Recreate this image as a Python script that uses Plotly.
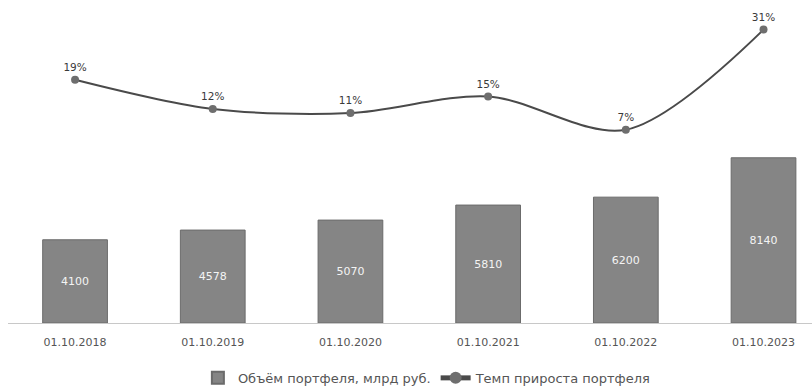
import plotly.graph_objects as go

dates = ["01.10.2018", "01.10.2019", "01.10.2020", "01.10.2021", "01.10.2022", "01.10.2023"]
portfolio = [4100, 4578, 5070, 5810, 6200, 8140]
growth = [19, 12, 11, 15, 7, 31]

bar_name = "Объём портфеля, млрд руб."
line_name = "Темп прироста портфеля"

font_family = "'DejaVu Sans', Verdana, sans-serif"

fig = go.Figure()

fig.add_trace(go.Bar(
    x=dates,
    y=portfolio,
    name=bar_name,
    width=0.47,
    marker=dict(color="#858585", line=dict(color="#6b6b6b", width=1)),
    text=[str(v) for v in portfolio],
    textposition="inside",
    insidetextanchor="middle",
    textfont=dict(color="#f4f4f4", size=11, family=font_family),
    yaxis="y",
))

fig.add_trace(go.Scatter(
    x=dates,
    y=growth,
    name=line_name,
    mode="lines+markers+text",
    line=dict(color="#4a4a4a", width=2, shape="spline", smoothing=0.9),
    marker=dict(color="#6e6e6e", size=8),
    text=[f"{v}%" for v in growth],
    textposition="top center",
    textfont=dict(color="#3a3a3a", size=10.5, family=font_family),
    yaxis="y2",
    cliponaxis=False,
))

fig.update_layout(
    width=812,
    height=388,
    margin=dict(l=8, r=0, t=10, b=65, autoexpand=False),
    paper_bgcolor="white",
    plot_bgcolor="white",
    font=dict(family=font_family, color="#555555", size=11),
    xaxis=dict(
        type="category",
        range=[-0.487, 5.352],
        showgrid=False,
        showline=True,
        linecolor="#c8c8c8",
        linewidth=1,
        ticks="outside",
        ticklen=9,
        tickcolor="rgba(0,0,0,0)",
        tickfont=dict(size=11, color="#555555"),
        zeroline=False,
    ),
    yaxis=dict(
        range=[0, 15420],
        visible=False,
        showgrid=False,
        zeroline=False,
    ),
    yaxis2=dict(
        range=[-39.3, 35.7],
        overlaying="y",
        visible=False,
        showgrid=False,
        zeroline=False,
    ),
    legend=dict(
        orientation="h",
        x=0.521,
        xanchor="center",
        yref="container",
        y=0.026,
        yanchor="middle",
        font=dict(size=13, color="#555555"),
        itemsizing="constant",
        itemwidth=30,
    ),
    showlegend=True,
)

fig.write_html("out.html")
